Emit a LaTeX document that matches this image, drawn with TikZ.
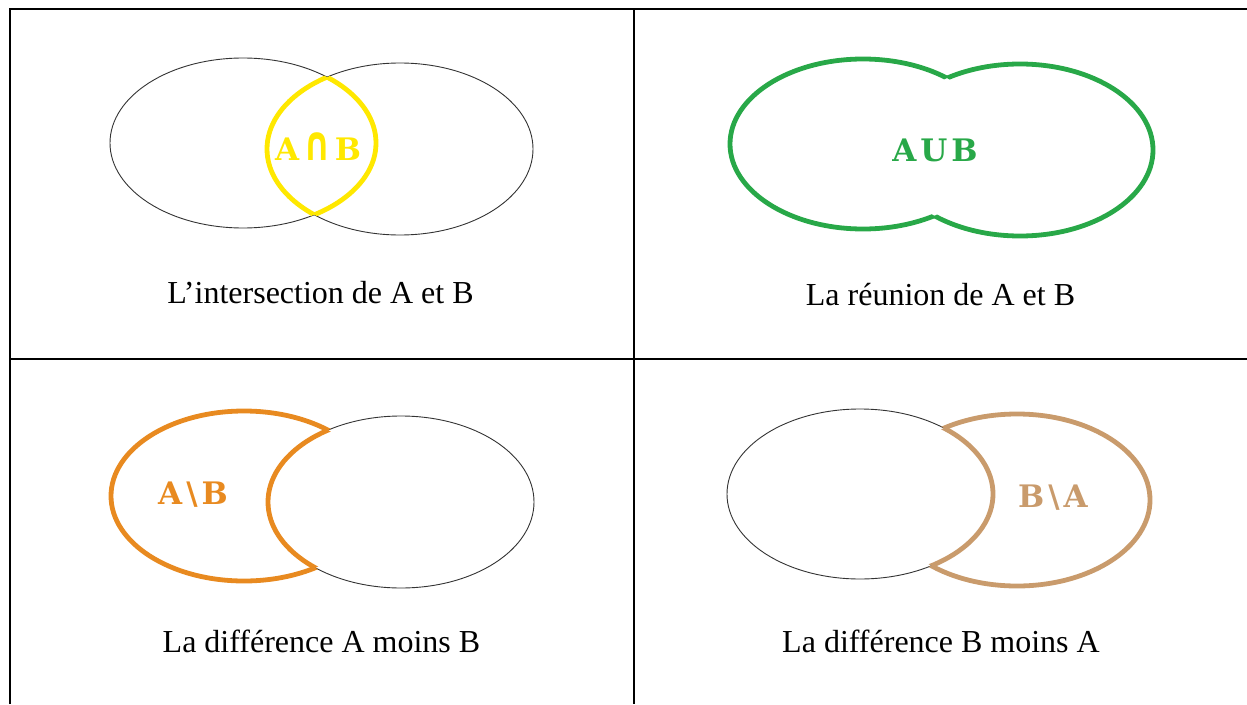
\documentclass[tikz,border=0pt]{standalone}
\usepackage{fontspec}
\usepackage{graphicx}
\setmainfont{Liberation Serif}
\newfontfamily\symfont{DejaVu Serif}
\newfontfamily\symsans{DejaVu Sans}
\definecolor{yl}{RGB}{255,232,0}
\definecolor{gr}{RGB}{40,168,72}
\definecolor{orng}{RGB}{232,138,32}
\definecolor{tan}{RGB}{201,155,108}
\def\EA{(376,143) arc[start angle=0,end angle=360,x radius=133,y radius=85] -- cycle}
\def\EAr{(376,143) arc[start angle=360,end angle=0,x radius=133,y radius=85] -- cycle}
\def\EB{(533,149) arc[start angle=0,end angle=360,x radius=133,y radius=86] -- cycle}
\def\EBr{(533,149) arc[start angle=360,end angle=0,x radius=133,y radius=86] -- cycle}
\def\Out{(-100,-100) -- (1400,-100) -- (1400,900) -- (-100,900) -- cycle}
\tikzset{
  thinline/.style={draw=black!80, line width=0.9pt},
  setline/.style={line width=4.8pt},
  caption/.style={font=\fontsize{32}{38}\selectfont, anchor=base, inner sep=0pt},
  setlabel/.style={font=\symfont\bfseries\fontsize{31}{36}\selectfont, inner sep=0pt},
  frame/.style={line width=2pt, draw=black}
}
\newcommand\gap{\hspace{4pt}}
\begin{document}
\begin{tikzpicture}[x=1pt,y=-1pt]
\useasboundingbox (0,0) rectangle (1247,704);
% table
\draw[frame] (10,704) -- (10,9) -- (1247,9);
\draw[frame] (634,9) -- (634,704);
\draw[frame] (10,358.5) -- (1247,358.5);

% panel 1: intersection
\draw[thinline] \EA;
\draw[thinline] \EB;
\begin{scope}\clip \EA; \draw[setline, yl] \EB; \end{scope}
\begin{scope}\clip \EB; \draw[setline, yl] \EA; \end{scope}
\node[setlabel, text=yl] (inter) at (318,147) {A\gap\scalebox{1.1}[1.55]{\symsans\bfseries ∩}\gap B};
\node[caption] (cap1) at (320.5,303) {L’intersection de A et B};

% panel 2: union
\begin{scope}[shift={(620,1)}]
\begin{scope}\clip \Out \EBr; \draw[setline, gr] \EA; \end{scope}
\begin{scope}\clip \Out \EAr; \draw[setline, gr] \EB; \end{scope}
\end{scope}
\node[setlabel, text=gr] (union) at (935,150) {A\gap U\gap B};
\node[caption] (cap2) at (940.5,305) {La réunion de A et B};

% panel 3: A minus B
\begin{scope}[shift={(1,353)}]
\draw[thinline] \EB;
\begin{scope}\clip \Out \EBr; \draw[setline, orng] \EA; \end{scope}
\begin{scope}\clip \EA; \draw[setline, orng] \EB; \end{scope}
\end{scope}
\node[setlabel, text=orng] (amb) at (193,495) {A\gap\textbackslash\gap B};
\node[caption] (cap3) at (321.5,652) {La différence A moins B};

% panel 4: B minus A
\begin{scope}[shift={(617,351)}]
\draw[thinline] \EA;
\begin{scope}\clip \Out \EAr; \draw[setline, tan] \EB; \end{scope}
\begin{scope}\clip \EB; \draw[setline, tan] \EA; \end{scope}
\end{scope}
\node[setlabel, text=tan] (bma) at (1053,498) {B\gap\textbackslash\gap A};
\node[caption] (cap4) at (941,652) {La différence B moins A};
\end{tikzpicture}
\end{document}
